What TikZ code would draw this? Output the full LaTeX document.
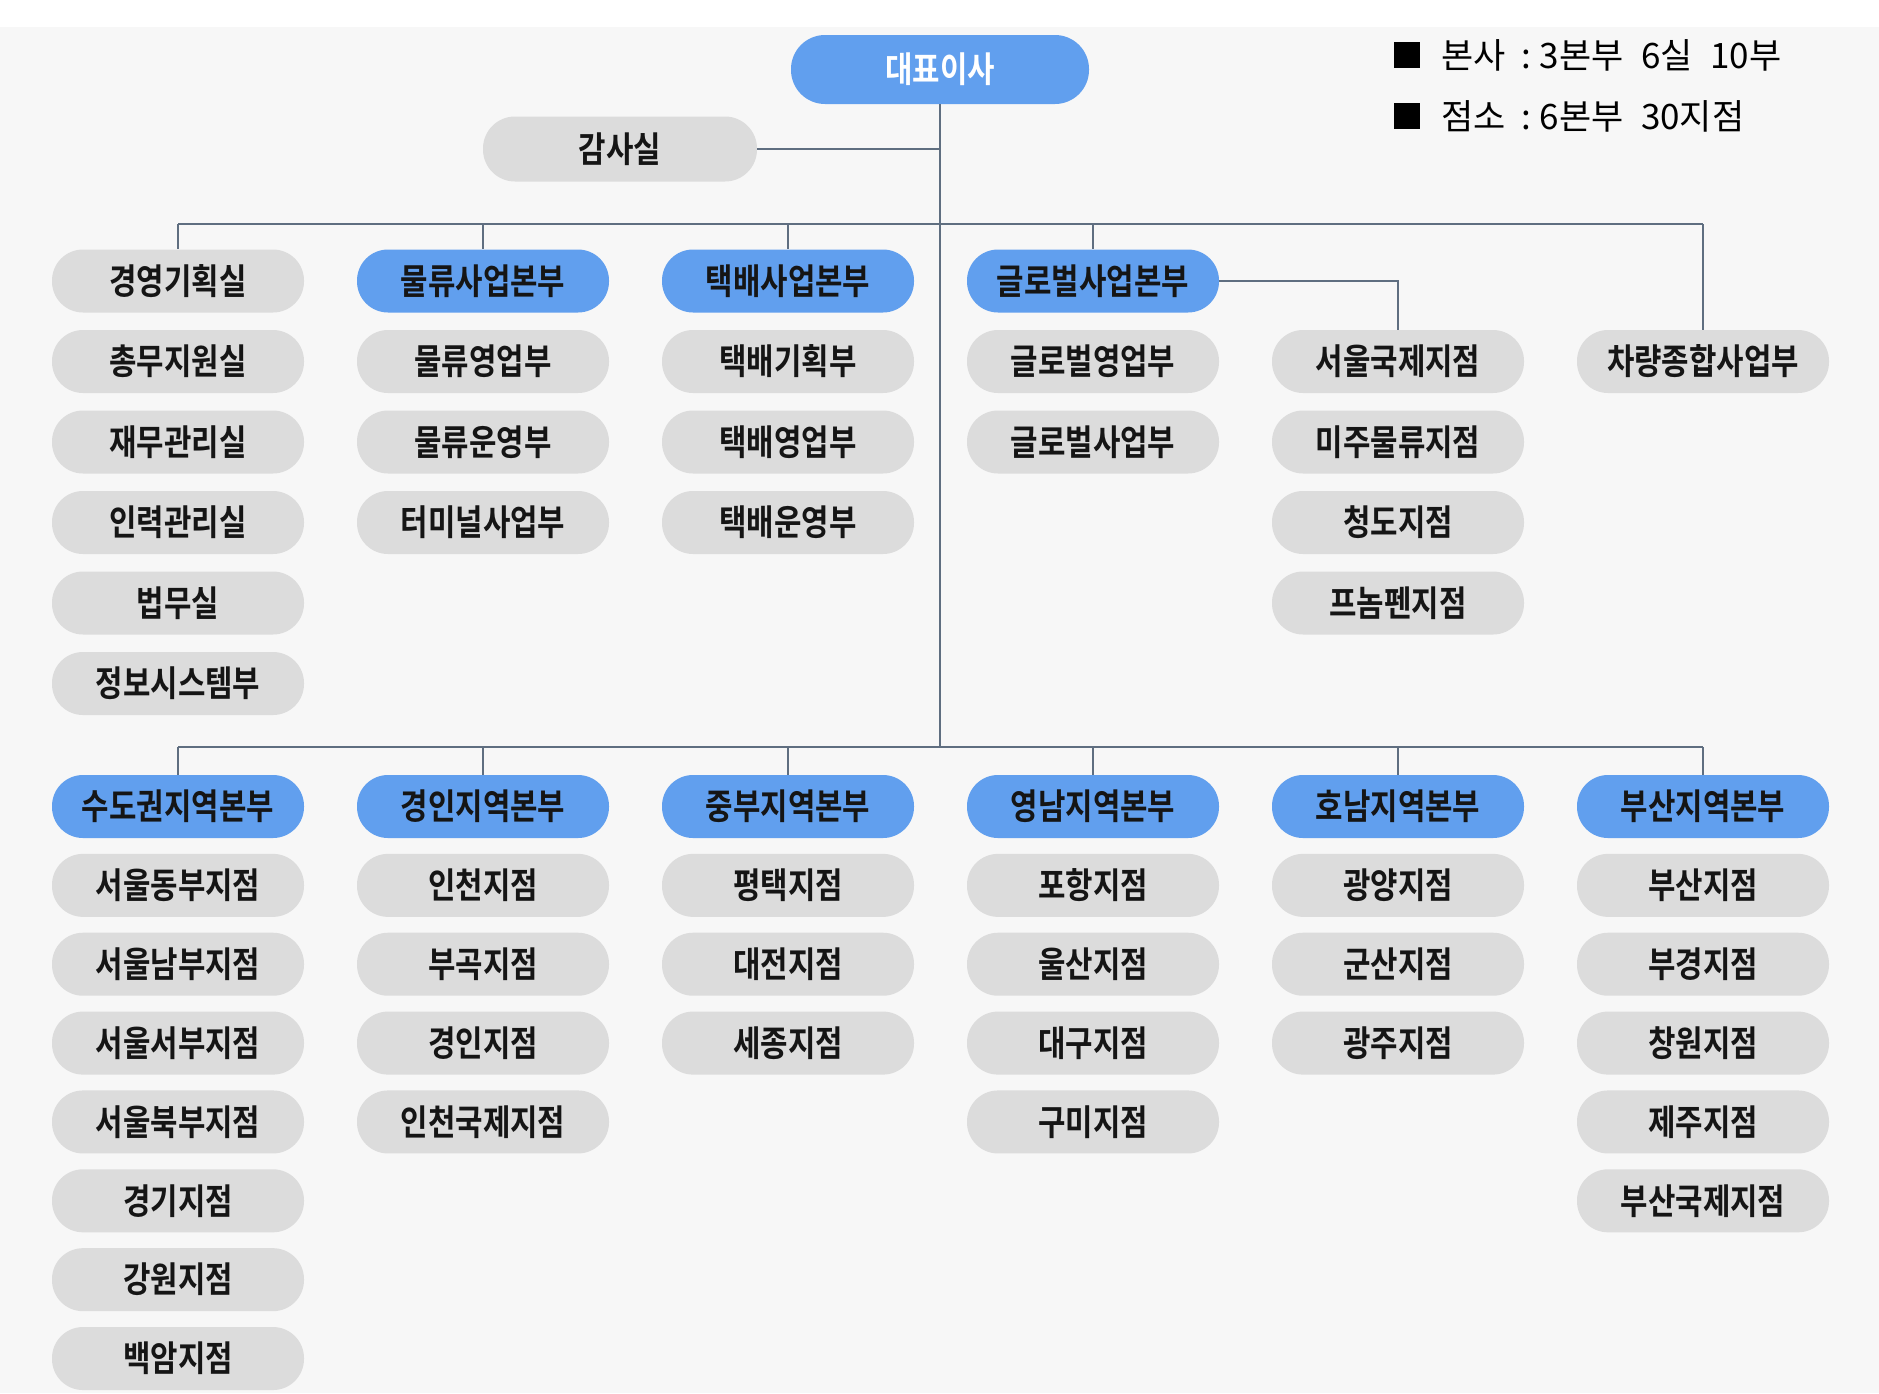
\documentclass[tikz,border=0pt]{standalone}
\usepackage{fontspec}
\newfontfamily\krb{Noto Sans CJK KR Bold}[FakeStretch=0.84]
\newfontfamily\krr{Noto Sans CJK KR}
\definecolor{bgc}{HTML}{F7F7F7}
\definecolor{pillgray}{HTML}{DCDCDC}
\definecolor{pillblue}{HTML}{619FEE}
\definecolor{linec}{HTML}{5F6E80}
\definecolor{txt}{HTML}{151515}
\tikzset{
  pill/.style={rectangle, rounded corners=31pt, minimum width=252pt, minimum height=63pt,
    inner sep=0pt, font=\krb\fontsize{35.5}{38}\selectfont, text=txt},
  gp/.style={pill, fill=pillgray},
  bp/.style={pill, fill=pillblue},
  conn/.style={draw=linec, line width=2.2pt},
  legtxt/.style={anchor=west, inner sep=0pt, font=\krr\fontsize{35}{38}\selectfont, text=black},
  legsq/.style={fill=black, minimum size=26pt, inner sep=0pt}
}
\begin{document}
\begin{tikzpicture}[x=1pt,y=-1pt]
\fill[white] (0,0) rectangle (1879,1393);
\fill[bgc] (0,27) rectangle (1879,1393);
\useasboundingbox (0,0) rectangle (1879,1393);

% legend
\node[legsq] (sq1) at (1407,55) {};
\node[legtxt] (leg1) at (1441,55) {본사\hspace{0.45em}:\hspace{0.25em}3본부\hspace{0.5em}6실\hspace{0.5em}10부};
\node[legsq] (sq2) at (1407,116) {};
\node[legtxt] (leg2) at (1441,116) {점소\hspace{0.45em}:\hspace{0.25em}6본부\hspace{0.5em}30지점};

% top
\node[bp, minimum width=298pt, minimum height=69pt, rounded corners=34pt, text=white] (ceo) at (940,69.5) {대표이사};
\node[gp, minimum width=274pt, minimum height=65pt, rounded corners=32pt] (audit) at (620,149) {감사실};

% upper columns
\foreach \t [count=\i] in {경영기획실,총무지원실,재무관리실,인력관리실,법무실,정보시스템부}
  \node[gp] (a\i) at (178,{281+80.5*(\i-1)}) {\t};
\node[bp] (b1) at (483,281) {물류사업본부};
\foreach \t [count=\i from 2] in {물류영업부,물류운영부,터미널사업부}
  \node[gp] (b\i) at (483,{281+80.5*(\i-1)}) {\t};
\node[bp] (c1) at (788,281) {택배사업본부};
\foreach \t [count=\i from 2] in {택배기획부,택배영업부,택배운영부}
  \node[gp] (c\i) at (788,{281+80.5*(\i-1)}) {\t};
\node[bp] (d1) at (1093,281) {글로벌사업본부};
\foreach \t [count=\i from 2] in {글로벌영업부,글로벌사업부}
  \node[gp] (d\i) at (1093,{281+80.5*(\i-1)}) {\t};
\foreach \t [count=\i from 2] in {서울국제지점,미주물류지점,청도지점,프놈펜지점}
  \node[gp] (e\i) at (1398,{281+80.5*(\i-1)}) {\t};
\node[gp] (f2) at (1703,361.5) {차량종합사업부};

% lower columns
\node[bp] (p1) at (178,806.5) {수도권지역본부};
\foreach \t [count=\i from 2] in {서울동부지점,서울남부지점,서울서부지점,서울북부지점,경기지점,강원지점,백암지점}
  \node[gp] (p\i) at (178,{806.5+78.86*(\i-1)}) {\t};
\node[bp] (q1) at (483,806.5) {경인지역본부};
\foreach \t [count=\i from 2] in {인천지점,부곡지점,경인지점,인천국제지점}
  \node[gp] (q\i) at (483,{806.5+78.86*(\i-1)}) {\t};
\node[bp] (r1) at (788,806.5) {중부지역본부};
\foreach \t [count=\i from 2] in {평택지점,대전지점,세종지점}
  \node[gp] (r\i) at (788,{806.5+78.86*(\i-1)}) {\t};
\node[bp] (s1) at (1093,806.5) {영남지역본부};
\foreach \t [count=\i from 2] in {포항지점,울산지점,대구지점,구미지점}
  \node[gp] (s\i) at (1093,{806.5+78.86*(\i-1)}) {\t};
\node[bp] (t1) at (1398,806.5) {호남지역본부};
\foreach \t [count=\i from 2] in {광양지점,군산지점,광주지점}
  \node[gp] (t\i) at (1398,{806.5+78.86*(\i-1)}) {\t};
\node[bp] (u1) at (1703,806.5) {부산지역본부};
\foreach \t [count=\i from 2] in {부산지점,부경지점,창원지점,제주지점,부산국제지점}
  \node[gp] (u\i) at (1703,{806.5+78.86*(\i-1)}) {\t};

% connectors
\coordinate (tb) at (941,224);
\coordinate (bb) at (941,747);
\draw[conn] (ceo.south) -- (ceo.south |- bb);
\draw[conn] (audit.east) -- (audit.east -| ceo.south);
\draw[conn] (a1.north |- tb) -- (f2.north |- tb);
\foreach \n in {a1,b1,c1,d1,f2}
  \draw[conn] (\n.north |- tb) -- (\n.north);
\draw[conn] (d1.east) -| (e2.north);
\draw[conn] (p1.north |- bb) -- (u1.north |- bb);
\foreach \n in {p1,q1,r1,s1,t1,u1}
  \draw[conn] (\n.north |- bb) -- (\n.north);
\end{tikzpicture}
\end{document}
